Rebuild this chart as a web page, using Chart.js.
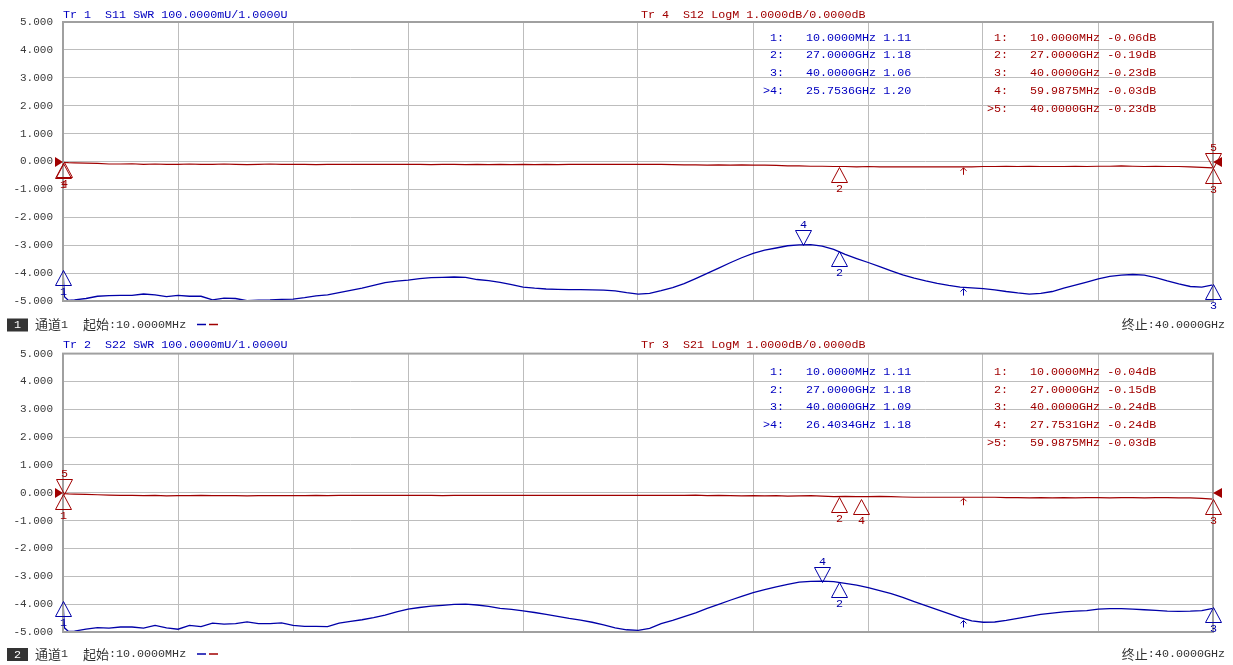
<!DOCTYPE html>
<html>
<head>
<meta charset="utf-8">
<script src="https://cdn.jsdelivr.net/npm/chart.js@4.4.1/dist/chart.umd.min.js"></script>
<style>
  body { margin: 0; background: #fff; width: 1233px; height: 665px; overflow: hidden; position: relative; }
  canvas { position: absolute; left: 0; }
</style>
</head>
<body>
<canvas id="chart1" width="1233" height="337" style="top:0"></canvas>
<canvas id="chart2" width="1233" height="328" style="top:337px"></canvas>
<script>
// Sweep points (GHz), 10 MHz .. 40 GHz
const freqGHz = [
  0.01, 0.06, 0.2,
  0.41, 0.81, 1.21, 1.61, 2.01, 2.41, 2.81, 3.21, 3.61, 4.01,
  4.41, 4.81, 5.21, 5.61, 6.01, 6.41, 6.81, 7.21, 7.61, 8.01,
  8.41, 8.81, 9.21, 9.61, 10.01, 10.41, 10.81, 11.21, 11.61, 12.01,
  12.41, 12.81, 13.21, 13.61, 14.01, 14.41, 14.81, 15.21, 15.61, 16.01,
  16.41, 16.81, 17.21, 17.61, 18.01, 18.41, 18.81, 19.21, 19.61, 20.01,
  20.41, 20.81, 21.21, 21.61, 22.01, 22.41, 22.81, 23.21, 23.61, 24.01,
  24.41, 24.81, 25.21, 25.61, 26.01, 26.41, 26.81, 27.21, 27.61, 28.01,
  28.41, 28.81, 29.21, 29.61, 30.01, 30.41, 30.81, 31.21, 31.61, 32.01,
  32.41, 32.81, 33.21, 33.61, 34.01, 34.41, 34.81, 35.21, 35.61, 36.01,
  36.41, 36.81, 37.21, 37.61, 38.01, 38.41, 38.81, 39.21, 39.61, 40.00
];

// S11 SWR, as drawn on the grid (bottom line = 1.000U, 100 mU/div)
const s11Swr = [
  -3.90, -4.85, -4.98,
  -4.96, -4.91, -4.83, -4.81, -4.80, -4.80, -4.75, -4.78, -4.84, -4.80,
  -4.83, -4.83, -4.96, -4.90, -4.91, -4.99, -4.97, -4.96, -4.94, -4.93,
  -4.88, -4.82, -4.78, -4.70, -4.62, -4.54, -4.44, -4.34, -4.29, -4.25,
  -4.20, -4.16, -4.15, -4.14, -4.15, -4.23, -4.27, -4.33, -4.41, -4.50,
  -4.54, -4.57, -4.58, -4.59, -4.59, -4.60, -4.61, -4.64, -4.70, -4.75,
  -4.73, -4.63, -4.52, -4.38, -4.20, -4.01, -3.82, -3.63, -3.45, -3.29,
  -3.18, -3.10, -3.02, -2.99, -2.98, -3.03, -3.15, -3.33, -3.48, -3.62,
  -3.77, -3.92, -4.06, -4.18, -4.28, -4.37, -4.44, -4.50, -4.53, -4.56,
  -4.60, -4.66, -4.71, -4.75, -4.73, -4.66, -4.54, -4.43, -4.32, -4.21,
  -4.12, -4.07, -4.05, -4.07, -4.16, -4.28, -4.39, -4.48, -4.50, -4.42
];

// S12 LogM (dB)
const s12LogM = [
  -0.02, -0.03, -0.04,
  -0.05, -0.06, -0.07, -0.09, -0.09, -0.08, -0.10, -0.09, -0.10, -0.10,
  -0.09, -0.10, -0.10, -0.09, -0.10, -0.11, -0.10, -0.09, -0.10, -0.10,
  -0.10, -0.11, -0.10, -0.10, -0.10, -0.10, -0.10, -0.10, -0.10, -0.10,
  -0.10, -0.11, -0.10, -0.10, -0.11, -0.10, -0.11, -0.10, -0.11, -0.10,
  -0.11, -0.10, -0.11, -0.10, -0.10, -0.10, -0.10, -0.10, -0.10, -0.10,
  -0.10, -0.10, -0.11, -0.12, -0.12, -0.13, -0.12, -0.13, -0.12, -0.13,
  -0.13, -0.14, -0.16, -0.16, -0.17, -0.17, -0.18, -0.18, -0.19, -0.18,
  -0.19, -0.19, -0.19, -0.19, -0.19, -0.19, -0.19, -0.19, -0.19, -0.18,
  -0.18, -0.17, -0.18, -0.17, -0.18, -0.18, -0.18, -0.17, -0.18, -0.17,
  -0.17, -0.16, -0.17, -0.18, -0.17, -0.18, -0.18, -0.19, -0.21, -0.23
];

// S22 SWR
const s22Swr = [
  -3.90, -4.85, -4.98,
  -4.97, -4.90, -4.84, -4.86, -4.82, -4.82, -4.86, -4.76, -4.85, -4.90,
  -4.76, -4.81, -4.68, -4.72, -4.70, -4.64, -4.70, -4.70, -4.67, -4.76,
  -4.80, -4.80, -4.81, -4.68, -4.62, -4.56, -4.48, -4.39, -4.28, -4.18,
  -4.12, -4.07, -4.04, -4.01, -4.00, -4.03, -4.08, -4.15, -4.19, -4.24,
  -4.30, -4.37, -4.44, -4.51, -4.57, -4.65, -4.74, -4.85, -4.92, -4.94,
  -4.87, -4.70, -4.58, -4.45, -4.31, -4.15, -4.01, -3.86, -3.72, -3.59,
  -3.48, -3.38, -3.29, -3.21, -3.18, -3.17, -3.19, -3.25, -3.32, -3.41,
  -3.51, -3.62, -3.76, -3.91, -4.05, -4.20, -4.34, -4.48, -4.60, -4.65,
  -4.64, -4.58, -4.51, -4.44, -4.37, -4.32, -4.28, -4.25, -4.23, -4.18,
  -4.16, -4.16, -4.18, -4.20, -4.22, -4.25, -4.26, -4.25, -4.23, -4.15
];

// S21 LogM (dB)
const s21LogM = [
  -0.02, -0.03, -0.04,
  -0.05, -0.06, -0.07, -0.08, -0.09, -0.09, -0.10, -0.09, -0.11, -0.10,
  -0.10, -0.09, -0.10, -0.10, -0.10, -0.11, -0.10, -0.10, -0.10, -0.10,
  -0.10, -0.09, -0.10, -0.09, -0.09, -0.09, -0.09, -0.09, -0.09, -0.09,
  -0.09, -0.09, -0.10, -0.09, -0.09, -0.09, -0.09, -0.09, -0.09, -0.09,
  -0.09, -0.09, -0.09, -0.09, -0.09, -0.09, -0.09, -0.09, -0.09, -0.09,
  -0.09, -0.09, -0.09, -0.09, -0.08, -0.10, -0.09, -0.10, -0.11, -0.10,
  -0.11, -0.10, -0.12, -0.11, -0.10, -0.12, -0.14, -0.13, -0.14, -0.14,
  -0.13, -0.14, -0.15, -0.16, -0.16, -0.16, -0.16, -0.16, -0.16, -0.16,
  -0.16, -0.17, -0.17, -0.18, -0.17, -0.18, -0.17, -0.18, -0.17, -0.17,
  -0.18, -0.17, -0.17, -0.18, -0.17, -0.17, -0.18, -0.18, -0.20, -0.23
];

// Y axis ticks
const yTickValues = [-5, -4, -3, -2, -1, 0, 1, 2, 3, 4, 5];
const yTickLabels = ['-5.000', '-4.000', '-3.000', '-2.000', '-1.000', '0.000', '1.000', '2.000', '3.000', '4.000', '5.000'];

// Markers (position on grid) and their readouts
const s11MarkerGHz = [0.01, 27, 40, 25.7536];
const s11MarkerVal = [-3.9, -3.2, -4.4, -3.0];
const s11Readout = ['10.0000MHz 1.11', '27.0000GHz 1.18', '40.0000GHz 1.06', '25.7536GHz 1.20'];
const s12MarkerGHz = [0.01, 27, 40, 0.0599875, 40];
const s12MarkerVal = [-0.06, -0.19, -0.23, -0.03, -0.23];
const s12Readout = ['10.0000MHz -0.06dB', '27.0000GHz -0.19dB', '40.0000GHz -0.23dB', '59.9875MHz -0.03dB', '40.0000GHz -0.23dB'];
const s22MarkerGHz = [0.01, 27, 40, 26.4034];
const s22MarkerVal = [-3.9, -3.2, -4.1, -3.2];
const s22Readout = ['10.0000MHz 1.11', '27.0000GHz 1.18', '40.0000GHz 1.09', '26.4034GHz 1.18'];
const s21MarkerGHz = [0.01, 27, 40, 27.7531, 0.0599875];
const s21MarkerVal = [-0.04, -0.15, -0.24, -0.24, -0.03];
const s21Readout = ['10.0000MHz -0.04dB', '27.0000GHz -0.15dB', '40.0000GHz -0.24dB', '27.7531GHz -0.24dB', '59.9875MHz -0.03dB'];

// small search arrows
const arrowGHz = 31.3;

const BLUE = '#0000a8';
const BLUE_TEXT = '#0000c0';
const RED = '#a00000';
const GRID = '#bdbdbd';
const FRAME = '#a0a0a0';
const MONO = "11.7px 'Liberation Mono', monospace";
const CJK = "13px 'Noto Sans CJK SC'";

let chart1, chart2;

function toPoints(xs, ys) {
    return xs.map((x, i) => ({ x: x, y: ys[i] }));
}

function drawMarkers(ctx, xs, ys, freqs, vals, active, color) {
    ctx.strokeStyle = color;
    ctx.fillStyle = color;
    ctx.lineWidth = 1;
    ctx.font = MONO;
    ctx.textAlign = 'center';
    ctx.textBaseline = 'middle';
    for (let i = 0; i < freqs.length; i++) {
        const x = Math.round(xs.getPixelForValue(freqs[i])) + 0.5;
        const y = Math.round(ys.getPixelForValue(vals[i])) + 0.5;
        const dir = (i === active) ? -1 : 1;  // active marker points down, sits above trace
        ctx.beginPath();
        ctx.moveTo(x, y);
        ctx.lineTo(x - 8, y + dir * 15);
        ctx.lineTo(x + 8, y + dir * 15);
        ctx.closePath();
        ctx.stroke();
        ctx.fillText(String(i + 1), x, y + dir * 21);
    }
}

function drawArrow(ctx, xs, ys, value, color) {
    const x = Math.round(xs.getPixelForValue(arrowGHz)) + 0.5;
    const y = ys.getPixelForValue(value) + 1;
    ctx.strokeStyle = color;
    ctx.lineWidth = 1;
    ctx.beginPath();
    ctx.moveTo(x, y); ctx.lineTo(x, y + 7);
    ctx.moveTo(x - 3, y + 3); ctx.lineTo(x, y); ctx.lineTo(x + 3, y + 3);
    ctx.stroke();
}

// draws a run of [text, font] parts, left aligned from x
function drawParts(ctx, parts, x, y, color) {
    ctx.fillStyle = color;
    ctx.textAlign = 'left';
    ctx.textBaseline = 'middle';
    parts.forEach(p => {
        ctx.font = p[1];
        ctx.fillText(p[0], x, y);
        x += ctx.measureText(p[0]).width;
    });
}

function partsWidth(ctx, parts) {
    let w = 0;
    parts.forEach(p => { ctx.font = p[1]; w += ctx.measureText(p[0]).width; });
    return w;
}

function makeOverlay(p) {
    return {
        id: 'vnaOverlay',
        afterDatasetsDraw(chart) {
            const ctx = chart.ctx;
            const xs = chart.scales.x;
            const ys = chart.scales.y;
            const a = chart.chartArea;
            ctx.save();

            // frame
            ctx.strokeStyle = FRAME;
            ctx.lineWidth = 2;
            ctx.strokeRect(a.left, a.top, a.right - a.left, a.bottom - a.top);

            // reference position triangles (0 dB)
            const y0 = Math.round(ys.getPixelForValue(0));
            ctx.fillStyle = RED;
            ctx.beginPath();
            ctx.moveTo(a.left, y0); ctx.lineTo(a.left - 8, y0 - 5); ctx.lineTo(a.left - 8, y0 + 5);
            ctx.closePath(); ctx.fill();
            ctx.beginPath();
            ctx.moveTo(a.right, y0); ctx.lineTo(a.right + 9, y0 - 5); ctx.lineTo(a.right + 9, y0 + 5);
            ctx.closePath(); ctx.fill();

            // markers
            drawMarkers(ctx, xs, ys, p.logMarkerGHz, p.logMarkerVal, p.logMarkerGHz.length - 1, RED);
            drawMarkers(ctx, xs, ys, p.swrMarkerGHz, p.swrMarkerVal, p.swrMarkerGHz.length - 1, BLUE);
            drawArrow(ctx, xs, ys, p.arrowVals[0], RED);
            drawArrow(ctx, xs, ys, p.arrowVals[1], BLUE);

            // trace titles
            ctx.font = MONO;
            ctx.textAlign = 'left';
            ctx.textBaseline = 'middle';
            ctx.fillStyle = BLUE_TEXT;
            ctx.fillText(p.swrTitle, 63, p.titleY);
            ctx.fillStyle = RED;
            ctx.fillText(p.logTitle, 641, p.titleY);

            // marker tables
            p.swrReadout.forEach((txt, i) => {
                const y = p.tableY + i * 17.8;
                ctx.fillStyle = BLUE_TEXT;
                ctx.textAlign = 'right';
                ctx.fillText((i === p.swrReadout.length - 1 ? '>' : '') + (i + 1) + ':', 784, y);
                ctx.textAlign = 'left';
                ctx.fillText(txt, 806, y);
            });
            p.logReadout.forEach((txt, i) => {
                const y = p.tableY + i * 17.8;
                ctx.fillStyle = RED;
                ctx.textAlign = 'right';
                ctx.fillText((i === p.logReadout.length - 1 ? '>' : '') + (i + 1) + ':', 1008, y);
                ctx.textAlign = 'left';
                ctx.fillText(txt, 1030, y);
            });

            // channel footer
            const fy = p.footerY;
            ctx.fillStyle = '#333';
            ctx.fillRect(7, fy - 6, 21, 13);
            ctx.fillStyle = '#fff';
            ctx.font = MONO;
            ctx.textAlign = 'center';
            ctx.fillText(p.channel, 17.5, fy + 0.5);
            drawParts(ctx, [['通道', CJK], ['1', MONO]], 35, fy, '#333');
            drawParts(ctx, [['起始', CJK], [':10.0000MHz', MONO]], 83, fy, '#333');
            ctx.lineWidth = 1.5;
            ctx.strokeStyle = BLUE;
            ctx.beginPath(); ctx.moveTo(197, fy); ctx.lineTo(206, fy); ctx.stroke();
            ctx.strokeStyle = RED;
            ctx.beginPath(); ctx.moveTo(209, fy); ctx.lineTo(218, fy); ctx.stroke();
            const stop = [['终止', CJK], [':40.0000GHz', MONO]];
            drawParts(ctx, stop, 1225 - partsWidth(ctx, stop), fy, '#333');

            ctx.restore();
        }
    };
}

function buildChart(id, p) {
    const ctx = document.getElementById(id).getContext('2d');
    return new Chart(ctx, {
        type: 'line',
        data: {
            datasets: [
                { data: toPoints(freqGHz, p.logData), borderColor: RED, borderWidth: 1.2, pointRadius: 0, tension: 0 },
                { data: toPoints(freqGHz, p.swrData), borderColor: BLUE, borderWidth: 1.3, pointRadius: 0, tension: 0 }
            ]
        },
        options: {
            responsive: false,
            animation: false,
            layout: { padding: { top: p.padTop, bottom: p.padBottom, left: 0, right: 20 } },
            plugins: { legend: { display: false }, tooltip: { enabled: false } },
            scales: {
                x: {
                    type: 'linear', min: 0.01, max: 40,
                    ticks: { display: false, stepSize: 4 },
                    grid: { color: GRID, drawTicks: false },
                    border: { display: false },
                    afterFit: s => { s.height = 0; }
                },
                y: {
                    min: -5, max: 5,
                    ticks: {
                        stepSize: 1, padding: 10, color: '#3a3a3a',
                        font: { family: 'Liberation Mono', size: 11 },
                        callback: v => yTickLabels[yTickValues.indexOf(v)]
                    },
                    grid: { color: GRID, drawTicks: false },
                    border: { display: false },
                    afterFit: s => { s.width = 63; }
                }
            }
        },
        plugins: [makeOverlay(p)]
    });
}

chart1 = buildChart('chart1', {
    padTop: 22, padBottom: 36, titleY: 15, tableY: 37.5, footerY: 324.5, channel: '1',
    swrData: s11Swr, logData: s12LogM,
    swrTitle: 'Tr 1  S11 SWR 100.0000mU/1.0000U', logTitle: 'Tr 4  S12 LogM 1.0000dB/0.0000dB',
    swrMarkerGHz: s11MarkerGHz, swrMarkerVal: s11MarkerVal, swrReadout: s11Readout,
    logMarkerGHz: s12MarkerGHz, logMarkerVal: s12MarkerVal, logReadout: s12Readout,
    arrowVals: [-0.19, -4.52]
});

chart2 = buildChart('chart2', {
    padTop: 16, padBottom: 33, titleY: 8, tableY: 34.7, footerY: 317, channel: '2',
    swrData: s22Swr, logData: s21LogM,
    swrTitle: 'Tr 2  S22 SWR 100.0000mU/1.0000U', logTitle: 'Tr 3  S21 LogM 1.0000dB/0.0000dB',
    swrMarkerGHz: s22MarkerGHz, swrMarkerVal: s22MarkerVal, swrReadout: s22Readout,
    logMarkerGHz: s21MarkerGHz, logMarkerVal: s21MarkerVal, logReadout: s21Readout,
    arrowVals: [-0.16, -4.55]
});
</script>
</body>
</html>
